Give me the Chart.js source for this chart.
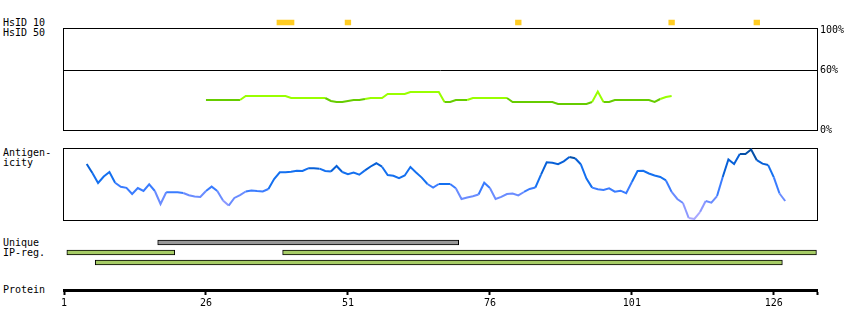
<!DOCTYPE html>
<html>
<head>
<meta charset="utf-8">
<script src="https://cdn.jsdelivr.net/npm/chart.js@4.4.1/dist/chart.umd.min.js"></script>
<style>
  body { margin: 0; background: #fff; }
  #wrap { position: relative; width: 850px; height: 330px; font: 10px "DejaVu Sans Mono", monospace; color: #000; }
  #wrap canvas { position: absolute; left: 0; }
  .lbl { position: absolute; left: 3px; line-height: 10px; white-space: pre; }
</style>
</head>
<body>
<div id="wrap">
  <div class="lbl" style="top:17.5px">HsID 10</div>
  <div class="lbl" style="top:27.5px">HsID 50</div>
  <div class="lbl" style="top:147.5px">Antigen-</div>
  <div class="lbl" style="top:157.5px">icity</div>
  <div class="lbl" style="top:237.5px">Unique</div>
  <div class="lbl" style="top:247.5px">IP-reg.</div>
  <div class="lbl" style="top:285px">Protein</div>

  <canvas id="hsid10" width="850" height="25" style="top:10px;width:850px;height:25px"></canvas>
  <canvas id="hsid50" width="850" height="140" style="top:0px;width:850px;height:140px"></canvas>
  <canvas id="anti" width="850" height="90" style="top:140px;width:850px;height:90px"></canvas>
  <canvas id="tracks" width="850" height="40" style="top:230px;width:850px;height:40px"></canvas>
  <canvas id="protein" width="850" height="60" style="top:270px;width:850px;height:60px"></canvas>
</div>
<script>
// protein axis
const axisStart = 1;
const axisEnd = 133.6;
const tickValues = [1, 26, 51, 76, 101, 126];
const pctTicks = [0, 60, 100];

// HsID 10 hits (residue ranges)
const hsid10Ranges = [[39, 41], [51, 51], [81, 81], [108, 108], [123, 123]];

// HsID 50 identity (%), residues 26..108
const hsidStart = 26;
const hsidValues = [
  30, 30, 30, 30, 30, 30, 30,
  34, 34, 34, 34, 34, 34, 34, 34,
  32, 32, 32, 32, 32, 32, 32,
  29, 28, 28, 29, 30, 30, 31,
  32, 32, 32,
  36, 36, 36, 36,
  38, 38, 38, 38, 38, 38,
  28, 28, 30, 30, 30,
  32, 32, 32, 32, 32, 32, 32,
  28, 28, 28, 28, 28, 28, 28, 28,
  26, 26, 26, 26, 26, 26,
  28, 38.5, 28, 28,
  30, 30, 30, 30, 30, 30, 30,
  28, 31, 33, 34
];

// antigenicity, residues 5..128
const antiStart = 5;
const antiValues = [
  77.8, 65.3, 51.4, 60.4, 66.7, 51.8, 46.1, 44.7, 36.1, 44.4,
  40.3, 49.6, 40.3, 22.2, 38.5, 38.5, 38.5, 37.5, 34.4, 32.6,
  31.9, 40.3, 46.4, 40.3, 27.1, 20.1, 30.6, 34.7, 39.6, 41.1,
  40.3, 39.7, 43.1, 56.9, 66.3, 66.3, 66.9, 68.5, 68.1, 71.8,
  71.8, 71.3, 68.1, 67.4, 75, 66.7, 63.6, 66, 62.9, 68.9,
  74.3, 78.8, 74, 62.5, 61.5, 58.1, 61.8, 73.6, 66, 58.9,
  50, 45, 50, 50, 50, 44, 29.2, 31.3, 33.1, 35.4,
  51.7, 44.4, 29.2, 32.2, 36.1, 36.8, 34.2, 38.9, 43.1, 45.1,
  63.1, 80.1, 79.6, 77.5, 81.5, 87.5, 85.8, 77.5, 57.5, 45,
  42.8, 41.7, 43.9, 39.3, 40.7, 37.2, 52.8, 68.1, 68.3, 64.6,
  61.9, 59.7, 54.9, 39, 29.2, 23.6, 2.9, 1.4, 11.1, 26.4,
  24, 33.3, 59.7, 84, 77.8, 91.7, 91.7, 97.9, 83.1, 78.3,
  76.3, 59.2, 36.8, 26.4
];

// region tracks (residue ranges)
const trackRows = ['Unique', 'IP-reg. a', 'IP-reg. b'];
const uniqueRanges = [[18, 70]];
const ipRanges = [[2, 20], [40, 133], [7, 127]];
const ipRows = ['IP-reg. a', 'IP-reg. a', 'IP-reg. b'];

const font = { family: '"DejaVu Sans Mono", monospace', size: 10 };

const frame = {
  id: 'frame',
  beforeDatasetsDraw(chart) {
    const { ctx, chartArea: a } = chart;
    ctx.save();
    ctx.strokeStyle = '#000';
    ctx.lineWidth = 1;
    ctx.strokeRect(Math.round(a.left) - 0.5, Math.round(a.top) + 0.5,
      Math.round(a.right - a.left) + 1, Math.round(a.bottom - a.top));
    ctx.restore();
  }
};

const base = {
  responsive: false,
  animation: false,
  events: [],
  plugins: { legend: { display: false }, tooltip: { enabled: false } }
};

const xHidden = { type: 'linear', min: axisStart, max: axisEnd, display: false };

function antiColor(v) {
  if (v >= 85) return '#0550a8';
  if (v >= 70) return '#0760d8';
  if (v >= 50) return '#1470f0';
  if (v >= 38) return '#3a7cff';
  if (v >= 25) return '#6a8cff';
  if (v >= 12) return '#8c98ff';
  return '#a8a8ff';
}

// HsID 10 strip
new Chart(document.getElementById('hsid10'), {
  type: 'bar',
  data: {
    labels: ['HsID 10'],
    datasets: [{
      data: hsid10Ranges.map(([s, e]) => ({ x: [s - 0.5, e + 0.5], y: 'HsID 10' })),
      backgroundColor: '#ffcc22',
      borderWidth: 0,
      barThickness: 5,
      maxBarThickness: 5
    }]
  },
  options: {
    ...base,
    indexAxis: 'y',
    layout: { padding: { left: 64, right: 33, top: 7.5, bottom: 7.5 } },
    scales: { x: xHidden, y: { type: 'category', display: false } }
  }
});

// HsID 50 panel
new Chart(document.getElementById('hsid50'), {
  type: 'line',
  data: {
    datasets: [{
      data: hsidValues.map((v, i) => ({ x: hsidStart + i, y: v })),
      borderColor: '#66cc00',
      borderWidth: 2,
      pointRadius: 0,
      tension: 0,
      segment: {
        borderColor: c => ((c.p0.parsed.y + c.p1.parsed.y) / 2 >= 31 ? '#99ff00' : '#66cc00')
      }
    }]
  },
  options: {
    ...base,
    layout: { padding: { left: 64, right: 0, top: 28, bottom: 10 } },
    scales: {
      x: xHidden,
      y: {
        type: 'linear', position: 'right', min: 0, max: 102,
        afterFit: s => { s.width = 33; },
        afterBuildTicks: s => { s.ticks = pctTicks.map(v => ({ value: v })); },
        ticks: { callback: v => v + '%', font, color: '#000', padding: 3 },
        grid: {
          drawTicks: false,
          color: c => (c.tick && c.tick.value === 60 ? '#000' : 'rgba(0,0,0,0)')
        },
        border: { display: false }
      }
    }
  },
  plugins: [frame]
});

// antigenicity panel
new Chart(document.getElementById('anti'), {
  type: 'line',
  data: {
    datasets: [{
      data: antiValues.map((v, i) => ({ x: antiStart + i, y: v })),
      borderColor: '#1470f0',
      borderWidth: 2,
      pointRadius: 0,
      tension: 0,
      segment: { borderColor: c => antiColor((c.p0.parsed.y + c.p1.parsed.y) / 2) }
    }]
  },
  options: {
    ...base,
    layout: { padding: { left: 64, right: 33, top: 8, bottom: 10 } },
    scales: { x: xHidden, y: { type: 'linear', min: 0, max: 100, display: false } }
  },
  plugins: [frame]
});

// region tracks
new Chart(document.getElementById('tracks'), {
  type: 'bar',
  data: {
    labels: trackRows,
    datasets: [
      {
        data: uniqueRanges.map(([s, e]) => ({ x: [s - 0.5, e + 0.5], y: 'Unique' })),
        backgroundColor: '#999999'
      },
      {
        data: ipRanges.map(([s, e], i) => ({ x: [s - 0.5, e + 0.5], y: ipRows[i] })),
        backgroundColor: '#a6cc66'
      }
    ].map(d => ({
      ...d,
      borderColor: '#000',
      borderWidth: 1,
      borderSkipped: false,
      barThickness: 5,
      maxBarThickness: 5,
      grouped: false
    }))
  },
  options: {
    ...base,
    indexAxis: 'y',
    layout: { padding: { left: 64, right: 33, top: 7.5, bottom: 2.5 } },
    scales: { x: xHidden, y: { type: 'category', display: false } }
  }
});

// protein axis
new Chart(document.getElementById('protein'), {
  type: 'line',
  data: { datasets: [] },
  options: {
    ...base,
    layout: { padding: { left: 64, right: 33, top: 10, bottom: 20 } },
    scales: {
      x: {
        type: 'linear', position: 'bottom', min: axisStart, max: axisEnd,
        afterFit: s => { s.height = 20; },
        afterBuildTicks: s => { s.ticks = [...tickValues, axisEnd].map(v => ({ value: v })); },
        ticks: {
          callback: (v, i, t) => (i === t.length - 1 ? '' : v),
          font, color: '#000', padding: 2, maxRotation: 0, autoSkip: false
        },
        grid: { drawOnChartArea: false, drawTicks: true, tickLength: 5, tickWidth: 2, color: '#000' },
        border: { display: true, width: 3, color: '#000' }
      },
      y: { type: 'linear', min: 0, max: 1, display: false }
    }
  }
});
</script>
</body>
</html>
